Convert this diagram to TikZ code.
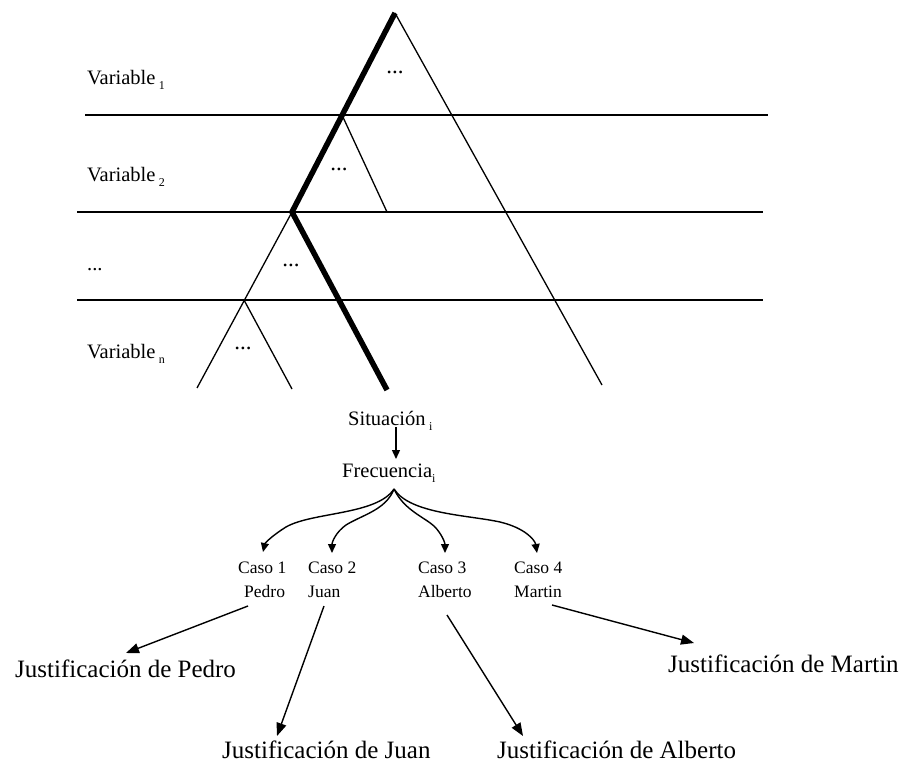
\documentclass[tikz,border=0pt]{standalone}
\usepackage{fontspec}
\setmainfont{Liberation Serif}
\usetikzlibrary{arrows.meta}
\newcommand{\sbs}[1]{\raisebox{-5pt}{\fontsize{12}{12}\selectfont #1}}
\tikzset{
  lbl/.style={anchor=base west, inner sep=0pt, font=\fontsize{20.5}{24}\selectfont},
  caso/.style={anchor=base west, inner sep=0pt, font=\fontsize{17.5}{20}\selectfont},
  just/.style={anchor=base west, inner sep=0pt, font=\fontsize{25}{28}\selectfont},
  dotsl/.style={inner sep=0pt, font=\fontsize{23}{24}\selectfont},
  hline/.style={line width=1.5pt},
  thin/.style={line width=1.3pt},
  thick path/.style={line width=5.5pt, line join=miter},
  bigarrow/.style={line width=1.4pt, -{Triangle[length=13pt,width=10pt]}},
  smallarrow/.style={line width=1.4pt, -{Triangle[length=9pt,width=8pt]}}
}
\begin{document}
\begin{tikzpicture}[x=1pt,y=-1pt]
\useasboundingbox (0,0) rectangle (908,770);

% horizontal separators
\draw[hline] (85,115) -- (768,115);
\draw[hline] (77,212) -- (763,212);
\draw[hline] (77,300) -- (763,300);

% tree coordinates
\coordinate (top) at (395,13);
\coordinate (n2) at (342,115);
\coordinate (n3) at (292,212);
\coordinate (n4) at (244,300);
\coordinate (bigR) at (602,385);
\coordinate (r2) at (387,212);
\coordinate (l4) at (197,388);
\coordinate (r4) at (292,389);
\coordinate (thickEnd) at (387,390);

\draw[thin] (top) -- (bigR);
\draw[thin] (n2) -- (r2);
\draw[thin] (n3) -- (l4);
\draw[thin] (n4) -- (r4);
\draw[thick path] (top) -- (n3) -- (thickEnd);

% dots in triangles
\node[dotsl] (d1) at (395,72) {...};
\node[dotsl] (d2) at (339,169) {...};
\node[dotsl] (d3) at (291,265) {...};
\node[dotsl] (d4) at (243,348) {...};

% variable labels
\node[lbl] (v1) at (87,85) {Variable\,\sbs{1}};
\node[lbl] (v2) at (87,182) {Variable\,\sbs{2}};
\node[lbl] (v3) at (87,271) {...};
\node[lbl] (vn) at (87,358) {Variable\,\sbs{n}};

% situation and frequency
\node[lbl] (sit) at (348,425) {Situación\,\sbs{i}};
\node[lbl] (freq) at (342,477) {Frecuencia\sbs{i}};
\coordinate (sitA) at (396,427);
\coordinate (freqA) at (396,459);
\draw[smallarrow] (sitA) -- (freqA);

% cases
\node[caso] (c1) at (238,573) {Caso 1};
\node[caso] (c1n) at (244,597) {Pedro};
\node[caso] (c2) at (308,573) {Caso 2};
\node[caso] (c2n) at (308,597) {Juan};
\node[caso] (c3) at (418,573) {Caso 3};
\node[caso] (c3n) at (418,597) {Alberto};
\node[caso] (c4) at (514,573) {Caso 4};
\node[caso] (c4n) at (514,597) {Martin};

\coordinate (fsrc) at (394,489);
\coordinate (t1) at (263,552);
\coordinate (t2) at (332,553);
\coordinate (t3) at (445,553);
\coordinate (t4) at (537,553);
\draw[smallarrow] (fsrc) .. controls (377,515) and (312,512) .. (286,527) .. controls (273,535) and (265,543) .. (t1);
\draw[smallarrow] (fsrc) .. controls (386,510) and (362,515) .. (346,525) .. controls (336,532) and (332,542) .. (t2);
\draw[smallarrow] (fsrc) .. controls (404,510) and (424,517) .. (434,526) .. controls (442,534) and (445,543) .. (t3);
\draw[smallarrow] (fsrc) .. controls (410,514) and (468,515) .. (500,522) .. controls (525,528) and (535,540) .. (t4);

% justifications
\node[just] (j1) at (15,677) {Justificación de Pedro};
\node[just] (j2) at (222,758) {Justificación de Juan};
\node[just] (j3) at (497,758) {Justificación de Alberto};
\node[just] (j4) at (668,672) {Justificación de Martin};

\coordinate (s1) at (248,606);
\coordinate (e1) at (126,653);
\coordinate (s2) at (324,606);
\coordinate (e2) at (277,736);
\coordinate (s3) at (447,615);
\coordinate (e3) at (523,736);
\coordinate (s4) at (552,605);
\coordinate (e4) at (694,643);
\draw[bigarrow] (s1) -- (e1);
\draw[bigarrow] (s2) -- (e2);
\draw[bigarrow] (s3) -- (e3);
\draw[bigarrow] (s4) -- (e4);
\end{tikzpicture}
\end{document}
